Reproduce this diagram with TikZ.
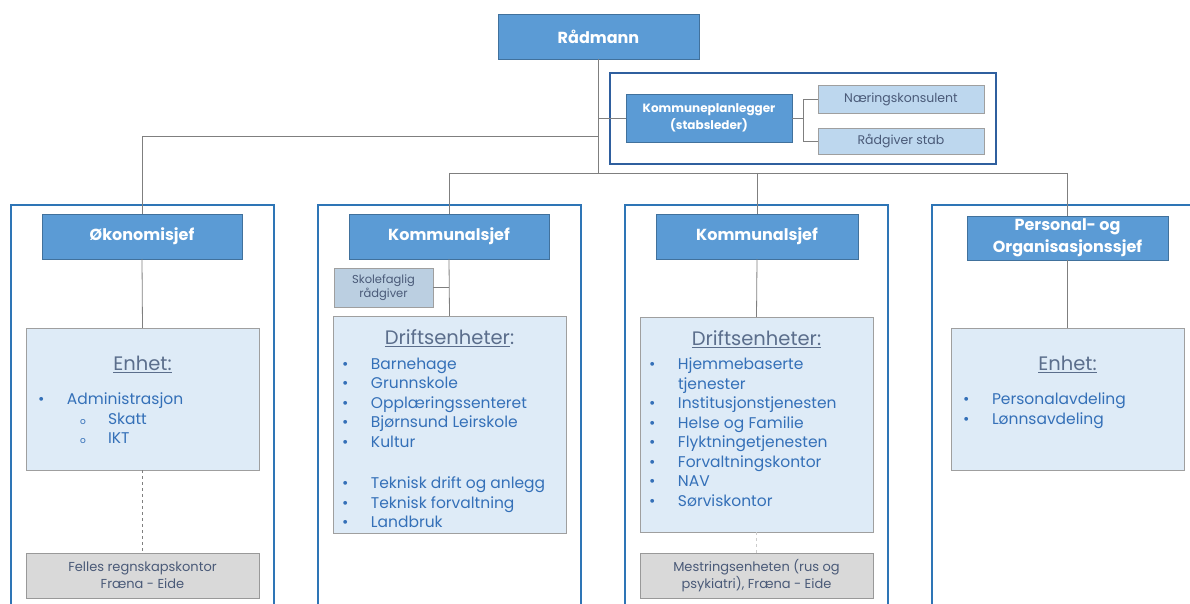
\documentclass[tikz,border=0pt]{standalone}
\usepackage{fontspec}
\setmainfont{Poppins}
\usetikzlibrary{positioning}

\definecolor{boxblue}{HTML}{5B9BD5}
\definecolor{boxedge}{HTML}{41719C}
\definecolor{paleblue}{HTML}{DEEBF7}
\definecolor{midblue}{HTML}{BDD7EE}
\definecolor{frameblue}{HTML}{2E75B6}
\definecolor{staffedge}{HTML}{2F5F9E}
\definecolor{linegrey}{HTML}{7F7F7F}
\definecolor{greybox}{HTML}{D9D9D9}
\definecolor{listblue}{HTML}{3470B8}
\definecolor{titlegrey}{HTML}{5B6E8C}
\definecolor{smalltext}{HTML}{4A5A78}

\newcommand{\itm}[1]{\makebox[29pt][l]{\textbullet}#1}
\newcommand{\subitm}[1]{\hspace*{42pt}\makebox[28pt][l]{\small o}#1}

\tikzset{
  chief/.style={draw=boxedge, fill=boxblue, text=white, inner sep=1pt, align=center,
    font=\bfseries\fontsize{16}{21}\selectfont, minimum width=200pt, minimum height=45pt},
  unitbox/.style={draw=gray!75, fill=paleblue, minimum width=233pt},
  staffbox/.style={draw=gray!75, fill=midblue, text=smalltext, align=center,
    font=\fontsize{12.5}{14}\selectfont, inner sep=1pt},
  sharedbox/.style={draw=gray!80, fill=greybox, text=smalltext, align=center,
    font=\fontsize{13}{17}\selectfont, minimum width=233pt, minimum height=45pt, inner sep=1pt},
  unittitle/.style={text=titlegrey, inner sep=0pt, font=\fontsize{19.5}{22}\selectfont},
  unitlist/.style={text=listblue, inner sep=0pt, align=left, font=\fontsize{15.5}{19.5}\selectfont},
  section/.style={draw=frameblue, line width=2pt},
  link/.style={draw=linegrey, line width=0.8pt}
}

\begin{document}
\begin{tikzpicture}[x=1pt,y=-1pt]
  \useasboundingbox (0,0) rectangle (1190,604);
  \clip (0,0) rectangle (1190,604);

  % frames
  \draw[section] (11,205) rectangle (274,612);
  \draw[section] (318,205) rectangle (581,612);
  \draw[section] (625,205) rectangle (888,612);
  \draw[section] (932,205) rectangle (1200,612);
  \draw[draw=staffedge, line width=2pt] (610,73) rectangle (996,164);

  % top
  \node[chief, minimum width=201pt] (rad) at (598.5,36.5) {Rådmann};
  \node[chief, minimum width=166pt, minimum height=48pt, font=\bfseries\fontsize{12}{17}\selectfont] (kpl) at (709,118) {Kommuneplanlegger\\(stabsleder)};
  \node[staffbox, minimum width=166pt, minimum height=28pt] (nk) at (901,99) {Næringskonsulent};
  \node[staffbox, minimum width=166pt, minimum height=26pt] (rs) at (901,141) {Rådgiver stab};

  % chiefs
  \node[chief] (oko) at (142,236.5) {Økonomisjef};
  \node[chief] (kom1) at (449,236.5) {Kommunalsjef};
  \node[chief, minimum width=202pt] (kom2) at (757,236.5) {Kommunalsjef};
  \node[chief, minimum width=201pt, minimum height=44pt, font=\bfseries\fontsize{16}{22}\selectfont] (pers) at (1067.5,238) {Personal- og\\Organisasjonssjef};

  % units
  \node[unitbox, minimum height=142pt] (enh1) at (142.5,399) {};
  \node[unittitle, below=28pt of enh1.north] {\underline{Enhet:}};
  \node[unitlist, below right=65pt and 12pt of enh1.north west] {\itm{Administrasjon}\\\subitm{Skatt}\\\subitm{IKT}};
  \node[sharedbox] (felles) at (142.5,575.5) {Felles regnskapskontor\\Fræna - Eide};

  \node[staffbox, minimum width=99pt, minimum height=39pt, font=\fontsize{11.5}{12.5}\selectfont, fill=midblue!85!gray!90] (skole) at (383.5,287.5) {Skolefaglig\\rådgiver};
  \node[unitbox, minimum height=217pt] (drift1) at (449.5,424.5) {};
  \node[unittitle, below=14pt of drift1.north] {\underline{Driftsenheter}:};
  \node[unitlist, below right=42pt and 9pt of drift1.north west] {\itm{Barnehage}\\\itm{Grunnskole}\\\itm{Opplæringssenteret}\\\itm{Bjørnsund Leirskole}\\\itm{Kultur}\\[22pt]\itm{Teknisk drift og anlegg}\\\itm{Teknisk forvaltning}\\\itm{Landbruk}};

  \node[unitbox, minimum height=215pt] (drift2) at (756.5,424.5) {};
  \node[unittitle, below=14pt of drift2.north] {\underline{Driftsenheter:}};
  \node[unitlist, below right=41pt and 9pt of drift2.north west] {\itm{Hjemmebaserte}\\\makebox[29pt]{}tjenester\\\itm{Institusjonstjenesten}\\\itm{Helse og Familie}\\\itm{Flyktningetjenesten}\\\itm{Forvaltningskontor}\\\itm{NAV}\\\itm{Sørviskontor}};
  \node[sharedbox] (mest) at (756.5,575.5) {Mestringsenheten (rus og\\psykiatri), Fræna - Eide};

  \node[unitbox, minimum height=142pt] (enh4) at (1067.5,399) {};
  \node[unittitle, below=28pt of enh4.north] {\underline{Enhet:}};
  \node[unitlist, below right=65pt and 12pt of enh4.north west] {\itm{Personalavdeling}\\\itm{Lønnsavdeling}};

  % connectors
  \coordinate (bus) at (598.5,173);
  \coordinate (okojoin) at (598.5,136);
  \coordinate (fork) at (803,118);
  \draw[link] (rad.south) -- (bus);
  \draw[link] (okojoin) -| (oko.north);
  \draw[link] (rad.south |- kpl.west) -- (kpl.west);
  \draw[link] (kpl.east) -- (fork);
  \draw[link] (nk.west) -| (fork) |- (rs.west);
  \draw[link] (kom1.north |- bus) -- (pers.north |- bus);
  \draw[link] (kom1.north |- bus) -- (kom1.north);
  \draw[link] (kom2.north |- bus) -- (kom2.north);
  \draw[link] (pers.north |- bus) -- (pers.north);
  \draw[link] (oko.south) -- (enh1.north);
  \draw[link, dashed] (enh1.south) -- (felles.north);
  \draw[link] (kom1.south) -- (drift1.north);
  \draw[link] (skole.east) -- (skole.east -| kom1.south);
  \draw[link] (kom2.south) -- (drift2.north);
  \draw[link, draw=gray!40, dashed] (drift2.south) -- (mest.north);
  \draw[link] (pers.south) -- (enh4.north);
\end{tikzpicture}
\end{document}
